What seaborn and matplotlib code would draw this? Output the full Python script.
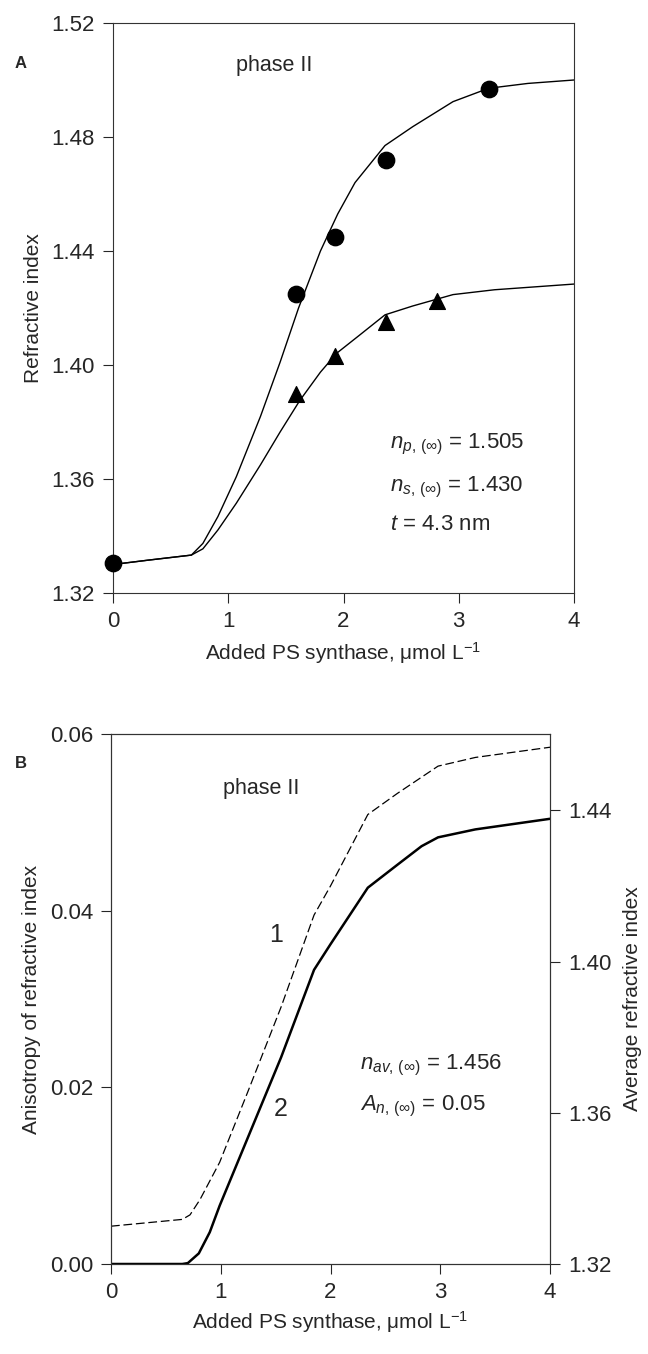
import numpy as np
import matplotlib
matplotlib.use("Agg")
import matplotlib.pyplot as plt
import seaborn as sb

sb.set_style("ticks")
plt.rcParams["font.family"] = ["Liberation Sans", "DejaVu Sans"]
plt.rcParams["mathtext.fontset"] = "custom"
plt.rcParams["mathtext.rm"] = "Liberation Sans"
plt.rcParams["mathtext.it"] = "Liberation Sans:italic"
plt.rcParams["mathtext.sf"] = "Liberation Sans"

#%% DATA

# panel A - measured points
np_x = [0.0, 1.59, 1.93, 2.37, 3.26]
np_y = [1.3305, 1.425, 1.445, 1.472, 1.497]
ns_x = [1.59, 1.93, 2.37, 2.81]
ns_y = [1.390, 1.403, 1.415, 1.4225]

# panel A - fitted curves
fitp_x = [0.0, 0.3, 0.68, 0.78, 0.91, 1.07, 1.28, 1.45, 1.61, 1.80, 1.95, 2.1, 2.36, 2.6,
          2.95, 3.26, 3.6, 4.0]
fitp_y = [1.330, 1.3315, 1.3333, 1.3374, 1.3468, 1.3608, 1.3820, 1.4010, 1.4200, 1.4400,
          1.4530, 1.4640, 1.477, 1.4836, 1.4924, 1.4971, 1.4988, 1.500]
fits_x = [0.0, 0.3, 0.68, 0.78, 0.91, 1.07, 1.28, 1.45, 1.62, 1.80, 1.94, 2.14, 2.36, 2.6,
          2.95, 3.31, 4.0]
fits_y = [1.330, 1.3315, 1.3333, 1.3355, 1.3421, 1.3515, 1.3650, 1.3765, 1.3875, 1.3975,
          1.4041, 1.4105, 1.4176, 1.4207, 1.4247, 1.4264, 1.4284]

# panel B - curve 1 (average refractive index, right axis)
av_x = [0.0, 0.65, 0.72, 0.81, 0.99, 1.25, 1.55, 1.85, 2.0, 2.34, 2.61, 2.98, 3.32, 4.0]
av_y = [1.3300, 1.3318, 1.3330, 1.3370, 1.3469, 1.3658, 1.388, 1.4123, 1.420, 1.4389,
        1.4445, 1.4517, 1.454, 1.4567]
# panel B - curve 2 (anisotropy, left axis)
an_x = [0.0, 0.65, 0.70, 0.80, 0.90, 0.99, 1.25, 1.55, 1.85, 2.0, 2.34, 2.61, 2.83, 2.98,
        3.32, 4.0]
an_y = [0.0, 0.0, 0.0001, 0.0012, 0.0036, 0.0066, 0.0144, 0.0234, 0.0333, 0.0362, 0.0426,
        0.0452, 0.0473, 0.0483, 0.0492, 0.0504]

fs = 15     # axis labels
tfs = 16    # tick labels / annotations
xlab = "Added PS synthase, \u03bcmol L$^{-1}$"

fig = plt.figure(figsize=(6.48, 13.54), dpi=100)
axA = fig.add_axes([113 / 648, 1 - 593 / 1354, 461 / 648, 570 / 1354])
axB = fig.add_axes([111 / 648, 1 - 1264 / 1354, 439 / 648, 530 / 1354])

#%% PANEL A

sb.lineplot(x=fitp_x, y=fitp_y, ax=axA, color="k", lw=1, sort=False, estimator=None)
sb.lineplot(x=fits_x, y=fits_y, ax=axA, color="k", lw=1, sort=False, estimator=None)
sb.scatterplot(x=np_x, y=np_y, ax=axA, color="k", marker="o", s=140, edgecolor="k",
               clip_on=False, zorder=5)
sb.scatterplot(x=ns_x, y=ns_y, ax=axA, color="k", marker="^", s=130, edgecolor="k",
               clip_on=False, zorder=5)
axA.set_xlim(0, 4)
axA.set_ylim(1.32, 1.52)
axA.set_xticks([0, 1, 2, 3, 4])
axA.set_yticks(np.arange(1.32, 1.5201, 0.04))
axA.set_yticklabels(["1.32", "1.36", "1.40", "1.44", "1.48", "1.52"])
axA.set_xlabel(xlab, fontsize=fs, labelpad=6)
axA.set_ylabel("Refractive index", fontsize=fs, labelpad=6)
axA.tick_params(labelsize=tfs, direction="out", length=7, width=0.8, pad=6)
axA.text(1.07, 1.503, "phase II", fontsize=15.5)
axA.text(2.4, 1.372, r"$n_{p,\,(\infty)}$ = 1.505", fontsize=tfs, va="center")
axA.text(2.4, 1.357, r"$n_{s,\,(\infty)}$ = 1.430", fontsize=tfs, va="center")
axA.text(2.4, 1.344, r"$t$ = 4.3 nm", fontsize=tfs, va="center")
fig.text(21 / 648, 1 - 64 / 1354, "A", fontsize=12, fontweight="bold",
         ha="center", va="center")

#%% PANEL B

axB2 = axB.twinx()
sb.lineplot(x=an_x, y=an_y, ax=axB, color="k", lw=1.8, sort=False, estimator=None)
sb.lineplot(x=av_x, y=av_y, ax=axB2, color="k", lw=0.9, sort=False, estimator=None,
            linestyle=(0, (7, 3)))
axB.set_xlim(0, 4)
axB.set_ylim(0, 0.06)
axB2.set_ylim(1.32, 1.4602)
axB.set_xticks([0, 1, 2, 3, 4])
axB.set_yticks([0, 0.02, 0.04, 0.06])
axB.set_yticklabels(["0.00", "0.02", "0.04", "0.06"])
axB2.set_yticks([1.32, 1.36, 1.40, 1.44])
axB2.set_yticklabels(["1.32", "1.36", "1.40", "1.44"])
axB.set_xlabel(xlab, fontsize=fs, labelpad=4)
axB.set_ylabel("Anisotropy of refractive index", fontsize=fs, labelpad=6)
axB2.set_ylabel("Average refractive index", fontsize=fs, labelpad=8)
axB.tick_params(labelsize=tfs, direction="out", length=7, width=0.8, pad=6)
axB2.tick_params(labelsize=tfs, direction="out", length=7, width=0.8, pad=6)
axB.text(1.02, 0.0538, "phase II", fontsize=15.5, va="center")
axB.text(1.5, 0.0372, "1", fontsize=18, ha="center", va="center")
axB.text(1.55, 0.0175, "2", fontsize=18, ha="center", va="center")
axB.text(2.27, 0.0225, r"$n_{av,\,(\infty)}$ = 1.456", fontsize=tfs, va="center")
axB.text(2.27, 0.0178, r"$A_{n,\,(\infty)}$ = 0.05", fontsize=tfs, va="center")
fig.text(21 / 648, 1 - 763 / 1354, "B", fontsize=12, fontweight="bold",
         ha="center", va="center")

for ax in (axA, axB, axB2):
    for sp in ax.spines.values():
        sp.set_visible(True)
        sp.set_linewidth(0.8)
        sp.set_color("#333333")

fig.savefig("out.png", dpi=100)
